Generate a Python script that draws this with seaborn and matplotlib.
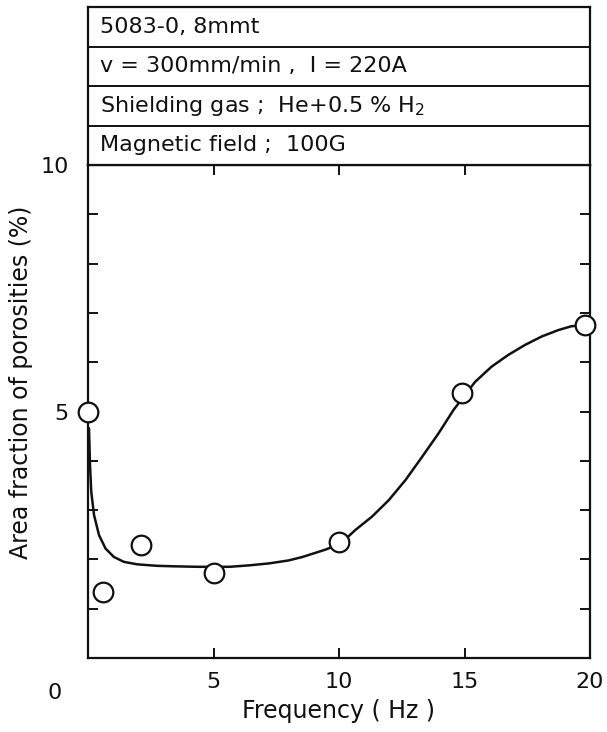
import matplotlib
matplotlib.use("Agg")
import matplotlib.pyplot as plt
import seaborn as sns
import pandas as pd

# ---- data ----
freq_pts = [0.0, 0.6, 2.1, 5.0, 10.0, 14.9, 19.8]
area_pts = [5.0, 1.34, 2.29, 1.72, 2.36, 5.37, 6.75]

curve_x = [0.04, 0.08, 0.13, 0.24, 0.44, 0.70, 1.03, 1.43, 1.96, 2.75, 3.41,
           4.34, 5.65, 6.44, 7.23, 8.0, 8.55, 9.47, 10.06, 10.66, 11.32,
           11.98, 12.65, 13.31, 13.97, 14.56, 15.42, 16.08, 16.75, 17.41,
           18.07, 18.73, 19.26, 19.81]
curve_y = [4.66, 3.91, 3.37, 2.90, 2.49, 2.22, 2.05, 1.95, 1.90, 1.87, 1.86,
           1.85, 1.85, 1.88, 1.92, 1.98, 2.05, 2.20, 2.32, 2.60, 2.87,
           3.20, 3.61, 4.08, 4.56, 5.03, 5.60, 5.91, 6.15, 6.35,
           6.52, 6.65, 6.73, 6.75]

header_lines = ["5083-0, 8mmt",
                "v = 300mm/min ,  I = 220A",
                "Shielding gas ;  He+0.5 % H$_2$",
                "Magnetic field ;  100G"]
x_ticks = [5, 10, 15, 20]
y_ticks = list(range(0, 11))
y_ticklabels = ["" if v not in (5, 10) else str(v) for v in y_ticks]

sns.set_theme(style="ticks")
plt.rcParams["font.family"] = ["DejaVu Sans"]

W, H = 607, 732
fig = plt.figure(figsize=(W / 100, H / 100), dpi=100)
fig.patch.set_facecolor("white")

ax_l, ax_r = 88 / W, 590 / W
ax_b, ax_t = 1 - 658 / H, 1 - 165 / H
ax = fig.add_axes([ax_l, ax_b, ax_r - ax_l, ax_t - ax_b])
ax.set_facecolor("white")

curve_df = pd.DataFrame({"f": curve_x, "a": curve_y})
pts_df = pd.DataFrame({"f": freq_pts, "a": area_pts})

sns.lineplot(data=curve_df, x="f", y="a", ax=ax, color="#111111",
             linewidth=1.8, sort=False, zorder=2)
sns.scatterplot(data=pts_df, x="f", y="a", ax=ax, marker="o", s=200,
                facecolor="white", edgecolor="#111111", linewidth=1.6,
                zorder=4, clip_on=False)

ax.set_xlim(0, 20)
ax.set_ylim(0, 10)
ax.set_xticks(x_ticks)
ax.set_xticklabels([str(v) for v in x_ticks])
ax.set_yticks(y_ticks)
ax.set_yticklabels(y_ticklabels)
ax.tick_params(direction="in", length=7, width=1.4, top=True, right=True,
               colors="#111111", labelsize=16)
ax.tick_params(axis="x", pad=10)
ax.tick_params(axis="y", pad=14)
for s in ax.spines.values():
    s.set_linewidth(1.6)
    s.set_color("#111111")

ax.annotate("0", xy=(0, 0), xycoords="data", xytext=(-24, -25),
            textcoords="offset points", ha="center", va="center",
            fontsize=16, color="#111111")

ax.set_xlabel("Frequency ( Hz )", fontsize=17, color="#111111", labelpad=5)
ax.set_ylabel("Area fraction of porosities (%)", fontsize=17,
              color="#111111")
ax.yaxis.set_label_coords(-0.11, 0.56)

# ---- header box ----
hb_t = 1 - 7 / H
hx = fig.add_axes([ax_l, ax_t, ax_r - ax_l, hb_t - ax_t])
hx.set_xlim(0, 1)
hx.set_ylim(0, 4)
hx.set_xticks([])
hx.set_yticks([])
hx.set_facecolor("white")
for s in hx.spines.values():
    s.set_linewidth(1.6)
    s.set_color("#111111")
for i in (1, 2, 3):
    hx.axhline(i, color="#111111", linewidth=1.4)
for i, txt in enumerate(header_lines):
    hx.text(0.024, 4 - i - 0.5, txt, ha="left", va="center",
            fontsize=16, color="#111111")

fig.savefig("out.png", dpi=100, facecolor="white")
